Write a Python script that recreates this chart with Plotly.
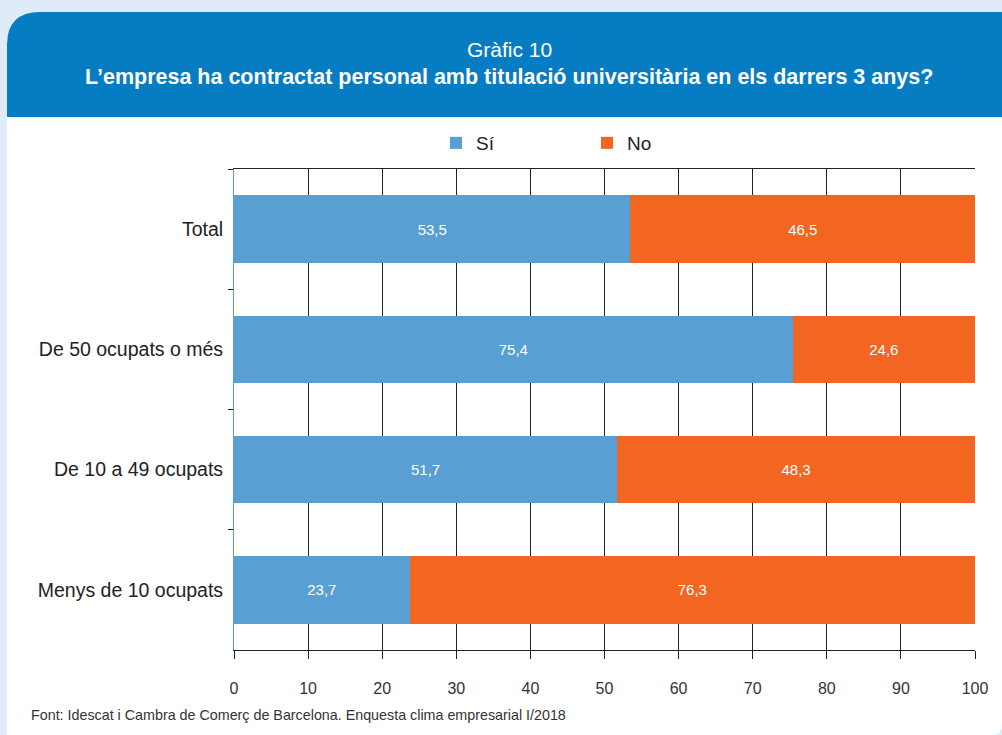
import plotly.graph_objects as go

categories = ["Total", "De 50 ocupats o més", "De 10 a 49 ocupats", "Menys de 10 ocupats"]
si_values = [53.5, 75.4, 51.7, 23.7]
no_values = [46.5, 24.6, 48.3, 76.3]
series_names = ["Sí", "No"]
x_ticks = [0, 10, 20, 30, 40, 50, 60, 70, 80, 90, 100]

BLUE = "#589fd3"
ORANGE = "#f36621"
HEADER = "#067dc3"
PAGE = "#dfebf7"

W, H = 1002, 735
L, R, T, B = 234, 27, 169, 85
PW = W - L - R
PH = H - T - B


def px(x):
    return (x - L) / PW


def py(y):
    return (H - B - y) / PH


fig = go.Figure()
for name, vals, col in [(series_names[0], si_values, BLUE), (series_names[1], no_values, ORANGE)]:
    fig.add_trace(go.Bar(
        y=categories, x=vals, name=name, orientation="h",
        marker=dict(color=col, line=dict(width=0)),
        width=0.56,
        texttemplate="%{x:.1f}", textposition="inside", insidetextanchor="middle",
        textfont=dict(color="white", size=15, family="Liberation Sans"),
        hoverinfo="skip",
    ))

r = 33
rb = 10
panel = (f"M {px(7)} {py(H)} L {px(7)} {py(12 + r)} Q {px(7)} {py(12)} {px(7 + r)} {py(12)} "
         f"L {px(W)} {py(12)} L {px(W)} {py(H - rb)} Q {px(W)} {py(H)} {px(W - rb)} {py(H)} Z")
header = (f"M {px(7)} {py(117)} L {px(7)} {py(12 + r)} Q {px(7)} {py(12)} {px(7 + r)} {py(12)} "
          f"L {px(W)} {py(12)} L {px(W)} {py(117)} Z")

fig.update_layout(
    width=W, height=H,
    margin=dict(l=L, r=R, t=T, b=B, pad=0),
    paper_bgcolor=PAGE, plot_bgcolor="white",
    separators=",.",
    barmode="stack", bargap=0.44,
    font=dict(family="Liberation Sans", color="#222"),
    shapes=[
        dict(type="path", xref="paper", yref="paper", path=panel, fillcolor="white",
             line=dict(width=0), layer="below"),
        dict(type="path", xref="paper", yref="paper", path=header, fillcolor=HEADER,
             line=dict(width=0), layer="below"),
    ],
    annotations=[
        dict(text="Gràfic 10", xref="paper", yref="paper", x=px(509), y=py(50),
             showarrow=False, font=dict(size=21, color="white", family="Liberation Sans"),
             xanchor="center", yanchor="middle"),
        dict(text="<b>L’empresa ha contractat personal amb titulació universitària en els darrers 3 anys?</b>",
             xref="paper", yref="paper", x=px(509), y=py(77),
             showarrow=False, font=dict(size=21.5, color="white", family="Liberation Sans"),
             xanchor="center", yanchor="middle"),
        dict(text="Font: Idescat i Cambra de Comerç de Barcelona. Enquesta clima empresarial I/2018",
             xref="paper", yref="paper", x=px(29), y=py(715),
             showarrow=False, font=dict(size=14.3, color="#333", family="Liberation Sans"),
             xanchor="left", yanchor="middle"),
    ],
    legend=dict(orientation="h", x=px(436), y=py(143), xanchor="left", yanchor="middle",
                font=dict(size=19, color="#222"), entrywidth=106, bgcolor="rgba(0,0,0,0)",
                traceorder="normal"),
    xaxis=dict(range=[0, 100], tickvals=x_ticks, ticks="outside", ticklen=8, tickcolor="#222",
               showgrid=True, gridcolor="#222", gridwidth=1, zeroline=False,
               showline=True, linecolor="#222", linewidth=1, mirror=True,
               tickfont=dict(size=16, family="Liberation Sans", color="#333"),
               ticklabelstandoff=16, fixedrange=True),
    yaxis=dict(categoryorder="array", categoryarray=categories, autorange="reversed",
               ticks="outside", tickson="boundaries", ticklen=5, tickcolor="#222",
               showline=True, linecolor=BLUE, linewidth=1, showgrid=False,
               tickfont=dict(size=19.5, color="#222"), ticklabelstandoff=6, fixedrange=True),
)

fig.write_html("out.html",
               config={"displayModeBar": False},
               post_script="document.body.style.margin='0';document.body.style.padding='0';"
                           "document.documentElement.style.overflow='hidden';")
